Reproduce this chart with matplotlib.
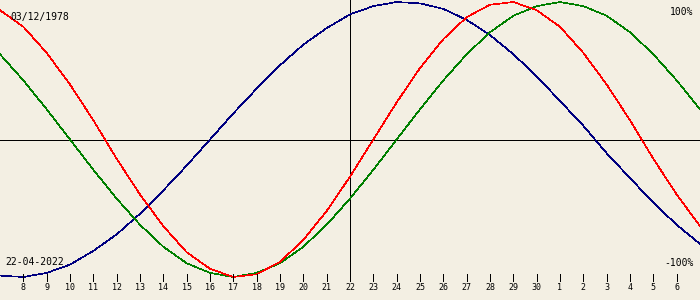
import matplotlib
matplotlib.use("Agg")
import matplotlib.pyplot as plt
import matplotlib.transforms as mtransforms

# day offsets relative to the target date (22-04-2022)
offsets = list(range(-15, 16))
day_labels = ["7", "8", "9", "10", "11", "12", "13", "14", "15", "16", "17", "18", "19", "20", "21",
              "22", "23", "24", "25", "26", "27", "28", "29", "30", "1", "2", "3", "4", "5", "6", "7"]

# values, one per day (-1 .. 1)
physical = [0.94, 0.82, 0.63, 0.40, 0.14, -0.14, -0.40, -0.63, -0.82, -0.94, -1.00,
            -0.98, -0.89, -0.73, -0.52, -0.27, 0.00, 0.27, 0.52, 0.73, 0.89, 0.98,
            1.00, 0.94, 0.82, 0.63, 0.40, 0.14, -0.14, -0.40, -0.63]
emotional = [0.62, 0.43, 0.22, 0.00, -0.22, -0.43, -0.62, -0.78, -0.90, -0.97, -1.00,
             -0.97, -0.90, -0.78, -0.62, -0.43, -0.22, 0.00, 0.22, 0.43, 0.62, 0.78,
             0.90, 0.97, 1.00, 0.97, 0.90, 0.78, 0.62, 0.43, 0.22]
intellectual = [-0.99, -1.00, -0.97, -0.91, -0.81, -0.69, -0.54, -0.37, -0.19, 0.00, 0.19,
                0.37, 0.54, 0.69, 0.81, 0.91, 0.97, 1.00, 0.99, 0.95, 0.87, 0.76,
                0.62, 0.46, 0.28, 0.10, -0.10, -0.28, -0.46, -0.62, -0.76]

birth = "03/12/1978"
target = "22-04-2022"

bg = "#f3efe3"
W, H = 700, 300
center_px, amp_px = 139.5, 137.5
lw = 0.7  # ~1 px for straight lines
clw = 0.45  # curves

fig = plt.figure(figsize=(7, 3), dpi=100, facecolor=bg)
ax = fig.add_axes([0, 0, 1, 1], facecolor=bg)
ax.set_xlim(-15, 15)
ax.set_ylim((center_px - H) / amp_px, center_px / amp_px)
ax.axis("off")

ax.axhline(0, color="black", lw=lw, antialiased=False)
ax.plot([0, 0], [1, 1 - 281 / H], color="black", lw=lw, antialiased=False,
        transform=mtransforms.blended_transform_factory(ax.transData, ax.transAxes))

ax.plot(offsets, intellectual, color="#000080", lw=clw, antialiased=False)
ax.plot(offsets, emotional, color="#008000", lw=clw, antialiased=False)
ax.plot(offsets, physical, color="#ff0000", lw=clw, antialiased=False)

# day ticks along the bottom
trans = mtransforms.blended_transform_factory(ax.transData, ax.transAxes)
for off, lab in zip(offsets, day_labels):
    if abs(off) == 15:
        continue
    ax.plot([off, off], [1 - 274 / H, 1 - 281 / H], color="black", lw=lw,
            antialiased=False, transform=trans)
    ax.text(off, 1 - 287.5 / H, lab, transform=trans, ha="center", va="center",
            fontsize=6, family="DejaVu Sans Mono")

mono = dict(family="DejaVu Sans Mono", fontsize=7)
fig.text(10 / W, 1 - 17 / H, birth, ha="left", va="center", **mono)
fig.text(5 / W, 1 - 262 / H, target, ha="left", va="center", **mono)
fig.text(693 / W, 1 - 12 / H, "100%", ha="right", va="center", **mono)
fig.text(694 / W, 1 - 263 / H, "-100%", ha="right", va="center", **mono)

fig.savefig("out.png", dpi=100, facecolor=bg)
